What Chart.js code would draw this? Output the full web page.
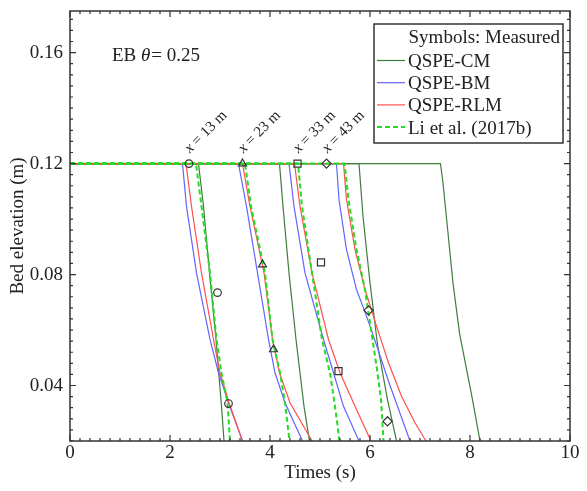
<!DOCTYPE html>
<html lang="en">
<head>
<meta charset="UTF-8">
<title>Bed elevation</title>
<script src="https://cdn.jsdelivr.net/npm/chart.js"></script>
<style>
    body { margin: 0; background: #fff; }
    .wrap { width: 587px; height: 491px; }
</style>
</head>
<body>
<div class="wrap"><canvas id="grafico"></canvas></div>
<script>
// stations along the flume (m)
const stations = ['13', '23', '33', '43'];

// QSPE-CM, one curve per station: time (s) / bed elevation (m)
const cmTime = [
    [0, 2.57, 2.67, 2.79, 2.92, 3.03, 3.08],
    [0, 4.19, 4.26, 4.38, 4.52, 4.68, 4.79],
    [0, 5.78, 5.86, 5.99, 6.15, 6.35, 6.53],
    [0, 7.41, 7.46, 7.56, 7.66, 7.79, 7.92, 8.05, 8.20]
];
const cmElev = [
    [0.12, 0.12, 0.1046, 0.0806, 0.0566, 0.0325, 0.02],
    [0.12, 0.12, 0.1046, 0.0806, 0.0566, 0.0325, 0.02],
    [0.12, 0.12, 0.101, 0.0786, 0.0547, 0.0349, 0.02],
    [0.12, 0.12, 0.113, 0.095, 0.0769, 0.0589, 0.0469, 0.0349, 0.02]
];

// QSPE-BM
const bmTime = [
    [0, 2.25, 2.33, 2.53, 2.80, 2.97, 3.17, 3.45],
    [0, 3.37, 3.53, 3.75, 3.97, 4.10, 4.30, 4.65],
    [0, 4.38, 4.48, 4.70, 5.07, 5.27, 5.47, 5.78],
    [0, 5.33, 5.38, 5.53, 5.73, 5.93, 6.16, 6.38, 6.62, 6.80]
];
const bmElev = [
    [0.12, 0.12, 0.1046, 0.0806, 0.0566, 0.0446, 0.0338, 0.02],
    [0.12, 0.12, 0.1046, 0.0806, 0.0566, 0.0446, 0.0338, 0.02],
    [0.12, 0.12, 0.1046, 0.0806, 0.0566, 0.0446, 0.0325, 0.02],
    [0.12, 0.12, 0.107, 0.089, 0.0746, 0.065, 0.053, 0.041, 0.029, 0.02]
];

// QSPE-RLM
const rlmTime = [
    [0, 2.32, 2.43, 2.63, 2.87, 3.00, 3.18, 3.45],
    [0, 3.45, 3.60, 3.88, 4.05, 4.19, 4.40, 4.84],
    [0, 4.49, 4.60, 4.84, 5.17, 5.40, 5.70, 6.02],
    [0, 5.47, 5.53, 5.70, 5.90, 6.13, 6.37, 6.63, 6.90, 7.12]
];
const rlmElev = [
    [0.12, 0.12, 0.1046, 0.0806, 0.0566, 0.0446, 0.0338, 0.02],
    [0.12, 0.12, 0.1046, 0.0806, 0.0566, 0.0446, 0.0338, 0.02],
    [0.12, 0.12, 0.1046, 0.0806, 0.0566, 0.0446, 0.0325, 0.02],
    [0.12, 0.12, 0.107, 0.089, 0.0746, 0.0614, 0.0482, 0.0361, 0.0266, 0.02]
];

// Li et al. (2017b)
const liTime = [
    [0, 2.52, 2.63, 2.80, 2.93, 3.03, 3.15, 3.20],
    [0, 3.50, 3.62, 3.90, 4.05, 4.20, 4.30, 4.39],
    [0, 4.56, 4.64, 4.84, 5.04, 5.20, 5.30, 5.39],
    [0, 5.49, 5.57, 5.73, 5.90, 6.03, 6.13, 6.22, 6.27]
];
const liElev = [
    [0.12, 0.12, 0.1046, 0.0806, 0.0566, 0.0446, 0.0338, 0.02],
    [0.12, 0.12, 0.1046, 0.0806, 0.0566, 0.0446, 0.0338, 0.02],
    [0.12, 0.12, 0.1046, 0.0806, 0.0566, 0.0446, 0.0325, 0.02],
    [0.12, 0.12, 0.107, 0.089, 0.0746, 0.059, 0.047, 0.035, 0.02]
];

// measured points
const measTime = [
    [2.38, 2.95, 3.17],
    [3.45, 3.85, 4.07],
    [4.55, 5.02, 5.37],
    [5.13, 5.97, 6.35]
];
const measElev = [
    [0.12, 0.0735, 0.0335],
    [0.12, 0.0836, 0.053],
    [0.12, 0.0844, 0.0452],
    [0.12, 0.0671, 0.0271]
];

const xTicks = [0, 2, 4, 6, 8, 10];
const yTicks = [0.04, 0.08, 0.12, 0.16];
const modelNames = ['QSPE-CM', 'QSPE-BM', 'QSPE-RLM', 'Li et al. (2017b)'];

const SERIF = '"Liberation Serif", "Times New Roman", serif';
const corCM = '#3f7d3f', corBM = '#6464ff', corRLM = '#ff5050', corLi = '#22dd22';

function pontos(t, z) {
    return t.map((v, i) => ({ x: v, y: z[i] }));
}

const datasets = [];
const simbolos = ['circle', 'triangle', 'rect', 'rectRot'];
const raios = [3.8, 4.6, 5, 4.6];
stations.forEach((s, i) => {
    datasets.push({
        label: 'x = ' + s + ' m', data: pontos(measTime[i], measElev[i]), showLine: false,
        pointStyle: simbolos[i], pointRadius: raios[i], pointBorderColor: '#333',
        pointBackgroundColor: 'rgba(0,0,0,0)', pointBorderWidth: 1.2, order: 0
    });
    datasets.push({
        label: modelNames[3], data: pontos(liTime[i], liElev[i]), showLine: true,
        borderColor: corLi, borderWidth: 2, borderDash: [5, 3], pointRadius: 0, order: 1
    });
    datasets.push({
        label: modelNames[2], data: pontos(rlmTime[i], rlmElev[i]), showLine: true,
        borderColor: corRLM, borderWidth: 1.2, pointRadius: 0, order: 2
    });
    datasets.push({
        label: modelNames[1], data: pontos(bmTime[i], bmElev[i]), showLine: true,
        borderColor: corBM, borderWidth: 1.2, pointRadius: 0, order: 3
    });
    datasets.push({
        label: modelNames[0], data: pontos(cmTime[i], cmElev[i]), showLine: true,
        borderColor: corCM, borderWidth: 1.2, pointRadius: 0, order: 4
    });
});

// frame with inward ticks on all four sides
const moldura = {
    id: 'moldura',
    afterDatasetsDraw(chart) {
        const { ctx, chartArea: a, scales: { x, y } } = chart;
        ctx.save();
        ctx.strokeStyle = '#333';
        ctx.lineWidth = 1.5;
        ctx.strokeRect(a.left, a.top, a.right - a.left, a.bottom - a.top);
        ctx.lineWidth = 1.2;
        ctx.beginPath();
        for (let k = 0; k <= 50; k++) {
            const v = k * 0.2;
            const len = k % 10 === 0 ? 6 : 3;
            const px = x.getPixelForValue(v);
            ctx.moveTo(px, a.bottom); ctx.lineTo(px, a.bottom - len);
            ctx.moveTo(px, a.top); ctx.lineTo(px, a.top + len);
        }
        for (let k = 5; k <= 43; k++) {
            const v = k * 0.004;
            const len = k % 10 === 0 ? 6 : 3;
            const py = y.getPixelForValue(v);
            ctx.moveTo(a.left, py); ctx.lineTo(a.left + len, py);
            ctx.moveTo(a.right, py); ctx.lineTo(a.right - len, py);
        }
        ctx.stroke();
        ctx.restore();
    }
};

// legend box, case label and station labels
const anotacoes = {
    id: 'anotacoes',
    afterDraw(chart) {
        const { ctx, scales: { x, y } } = chart;
        ctx.save();
        ctx.fillStyle = '#222';
        ctx.textBaseline = 'alphabetic';

        // EB theta = 0.25
        ctx.font = '19px ' + SERIF;
        let cx = 112;
        ctx.fillText('EB ', cx, 61);
        cx += ctx.measureText('EB ').width;
        ctx.font = 'italic 19px ' + SERIF;
        ctx.fillText('\u03B8', cx, 61);
        cx += ctx.measureText('\u03B8').width + 1;
        ctx.font = '19px ' + SERIF;
        ctx.fillText('= 0.25', cx, 61);

        // station labels, rotated
        stations.forEach((s, i) => {
            const px = x.getPixelForValue(measTime[i][0]);
            const py = y.getPixelForValue(measElev[i][0]);
            ctx.save();
            ctx.translate(px + 1, py - 10);
            ctx.rotate(-Math.PI / 4);
            ctx.font = 'italic 15px ' + SERIF;
            ctx.fillText('x', 0, 0);
            const w = ctx.measureText('x').width;
            ctx.font = '15px ' + SERIF;
            ctx.fillText(' = ' + s + ' m', w, 0);
            ctx.restore();
        });

        // legend
        const bx = 374, by = 24, bw = 189, bh = 119;
        ctx.fillStyle = '#fff';
        ctx.fillRect(bx, by, bw, bh);
        ctx.strokeStyle = '#333';
        ctx.lineWidth = 1.5;
        ctx.strokeRect(bx, by, bw, bh);
        ctx.fillStyle = '#222';
        ctx.font = '19px ' + SERIF;
        ctx.textAlign = 'right';
        ctx.fillText('Symbols: Measured', bx + bw - 3, 43);
        ctx.textAlign = 'left';
        const cores = [corCM, corBM, corRLM, corLi];
        modelNames.forEach((nome, i) => {
            const base = 67 + i * 22.2;
            ctx.beginPath();
            ctx.strokeStyle = cores[i];
            ctx.lineWidth = i === 3 ? 2 : 1.2;
            ctx.setLineDash(i === 3 ? [5, 3] : []);
            ctx.moveTo(377, base - 6.5);
            ctx.lineTo(405, base - 6.5);
            ctx.stroke();
            ctx.setLineDash([]);
            ctx.fillText(nome, 408, base);
        });
        ctx.restore();
    }
};

new Chart(document.getElementById('grafico'), {
    type: 'scatter',
    data: { datasets },
    options: {
        responsive: true,
        maintainAspectRatio: false,
        animation: false,
        layout: { padding: { top: 11, right: 17, left: 0, bottom: 0 } },
        plugins: { legend: { display: false }, tooltip: { enabled: false } },
        elements: { line: { tension: 0, fill: false } },
        scales: {
            x: {
                type: 'linear', min: 0, max: 10,
                afterBuildTicks: s => { s.ticks = xTicks.map(v => ({ value: v })); },
                afterFit: s => { s.height = 50; s.paddingLeft = 0; s.paddingRight = 0; },
                grid: { display: false, drawTicks: false },
                border: { display: false },
                ticks: { padding: 1, color: '#222', font: { family: SERIF, size: 19 }, maxRotation: 0 },
                title: { display: true, text: 'Times (s)', color: '#222', padding: { top: 0, bottom: 7 },
                    font: { family: SERIF, size: 19 } }
            },
            y: {
                type: 'linear', min: 0.02, max: 0.175,
                afterBuildTicks: s => { s.ticks = yTicks.map(v => ({ value: v })); },
                afterFit: s => { s.width = 70; s.paddingTop = 0; s.paddingBottom = 0; },
                grid: { display: false, drawTicks: false },
                border: { display: false },
                ticks: { padding: 7, color: '#222', font: { family: SERIF, size: 19 },
                    callback: v => v.toFixed(2) },
                title: { display: true, text: 'Bed elevation (m)', color: '#222', padding: { top: 7, bottom: 0 },
                    font: { family: SERIF, size: 19 } }
            }
        }
    },
    plugins: [moldura, anotacoes]
});
</script>
</body>
</html>
